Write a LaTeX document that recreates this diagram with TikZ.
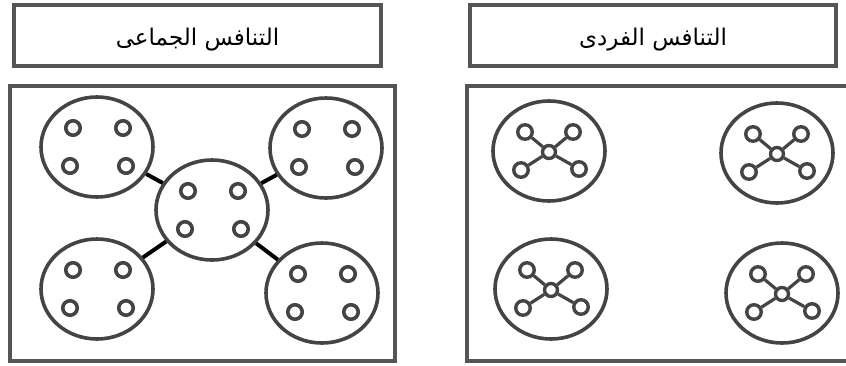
\documentclass[tikz,border=0pt]{standalone}
\usepackage{fontspec}
\usetikzlibrary{shapes.geometric}
\newfontfamily\arabicfont[Script=Arabic]{DejaVu Sans}
\TeXXeTstate=1
\definecolor{strk}{HTML}{444444}
\definecolor{frm}{HTML}{555555}
\tikzset{
  titlebox/.style={draw=frm, line width=4.5pt},
  panel/.style={draw=frm, line width=4.5pt},
  group/.style={ellipse, draw=strk, line width=3.6pt, minimum width=112pt, minimum height=100pt, inner sep=0pt},
  member/.style={circle, draw=strk, line width=3.6pt, minimum size=14.5pt, inner sep=0pt},
  link/.style={draw=black, line width=4pt},
  spoke/.style={draw=strk, line width=3.2pt},
  hub/.style={circle, draw=strk, line width=3.4pt, minimum size=13pt, inner sep=0pt},
  leaf/.style={circle, draw=strk, line width=3.4pt, minimum size=14.5pt, inner sep=0pt},
  lbl/.style={font=\arabicfont\fontsize{23}{26}\selectfont, text=black}
}
\begin{document}
\begin{tikzpicture}[x=1pt, y=-1pt]
\useasboundingbox (0,0) rectangle (846,365);
\clip (0,0) rectangle (846,365);
% title boxes
\draw[titlebox] (14,5) rectangle (381,66);
\draw[titlebox] (470,5) rectangle (836,66);
\node[lbl] (t1) at (197.5,40) {\beginR التنافس الجماعى\endR};
\node[lbl] (t2) at (653,40) {\beginR التنافس الفردى\endR};
% panels
\draw[panel] (10,86) rectangle (395,361);
\draw[panel] (467,86) rectangle (860,361);
% left groups
\foreach \n/\x/\y in {gtl/97/147, gtr/326/148, gc/212/210, gbl/97/289, gbr/322/293}{
  \node[group] (\n) at (\x,\y) {};
  \node[member] (\n-a) at (\x-24,\y-19) {};
  \node[member] (\n-b) at (\x+26,\y-19) {};
  \node[member] (\n-c) at (\x-27,\y+19) {};
  \node[member] (\n-d) at (\x+29,\y+19) {};
}
\draw[link] (gtl) -- (gc);
\draw[link] (gtr) -- (gc);
\draw[link] (gbl) -- (gc);
\draw[link] (gbr) -- (gc);
% right groups
\foreach \n/\x/\y in {rtl/549/151, rtr/777/153, rbl/551/289, rbr/782/293}{
  \node[group] (\n) at (\x,\y) {};
  \node[hub] (\n-h) at (\x,\y+1) {};
  \node[leaf] (\n-a) at (\x-24,\y-19) {};
  \node[leaf] (\n-b) at (\x+24,\y-19) {};
  \node[leaf] (\n-c) at (\x-28,\y+19) {};
  \node[leaf] (\n-d) at (\x+30,\y+18) {};
  \draw[spoke] (\n-h) -- (\n-a);
  \draw[spoke] (\n-h) -- (\n-b);
  \draw[spoke] (\n-h) -- (\n-c);
  \draw[spoke] (\n-h) -- (\n-d);
}
\end{tikzpicture}
\end{document}
